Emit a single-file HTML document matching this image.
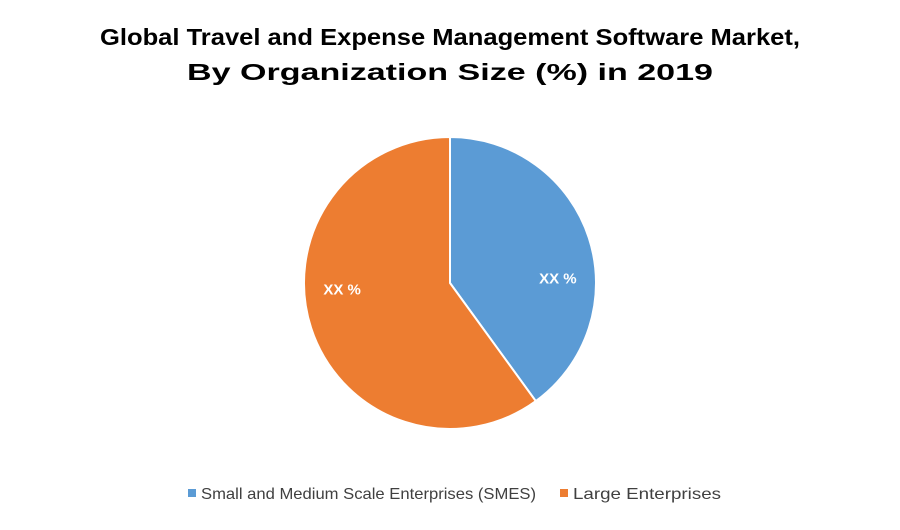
<!DOCTYPE html>
<html><head><meta charset="utf-8"><style>
body{margin:0;width:900px;height:525px;background:#fff;overflow:hidden;font-family:"Liberation Sans",sans-serif}
</style></head><body>
<svg width="900" height="525">
<text x="450" y="45" text-anchor="middle" font-size="23" font-weight="bold" fill="#000" textLength="700" lengthAdjust="spacingAndGlyphs">Global Travel and Expense Management Software Market,</text>
<text x="450" y="80" text-anchor="middle" font-size="23" font-weight="bold" fill="#000" textLength="526" lengthAdjust="spacingAndGlyphs">By Organization Size (%) in 2019</text>
<g id="slices"></g>
<g>
<rect x="188" y="489" width="8" height="8" fill="#5b9bd5"/>
<text x="201" y="499" font-size="16" fill="#404040" textLength="335" lengthAdjust="spacingAndGlyphs">Small and Medium Scale Enterprises (SMES)</text>
<rect x="560" y="489" width="8" height="8" fill="#ed7d31"/>
<text x="573" y="499" font-size="16" fill="#404040" textLength="148" lengthAdjust="spacingAndGlyphs">Large Enterprises</text>
</g>
</svg>
<script>
const categories=["Small and Medium Scale Enterprises (SMES)","Large Enterprises"];
const values=[40,60];
const labels=["XX %","XX %"];
const colors=["#5b9bd5","#ed7d31"];
const cx=450,cy=283,r=146;
const labelShift=15*Math.PI/180, labelR=0.74;
const g=document.getElementById('slices');
const ns="http://www.w3.org/2000/svg";
const total=values.reduce((a,b)=>a+b,0);
let a0=0;
values.forEach((v,i)=>{
  const a1=a0+v/total*2*Math.PI;
  const p=(a)=>[cx+r*Math.sin(a),cy-r*Math.cos(a)];
  const [x0,y0]=p(a0),[x1,y1]=p(a1);
  const path=document.createElementNS(ns,'path');
  path.setAttribute('d',`M${cx},${cy}L${x0},${y0}A${r},${r} 0 ${a1-a0>Math.PI?1:0} 1 ${x1},${y1}Z`);
  path.setAttribute('fill',colors[i]);
  path.setAttribute('stroke','#fff');
  path.setAttribute('stroke-width','2');
  
  
  g.appendChild(path);
  const am=(a0+a1)/2+labelShift;
  const t=document.createElementNS(ns,'text');
  t.setAttribute('x',cx+r*labelR*Math.sin(am));
  t.setAttribute('y',cy-r*labelR*Math.cos(am)+6);
  t.setAttribute('text-anchor','middle');
  t.setAttribute('font-size','15');
  t.setAttribute('font-weight','bold');
  t.setAttribute('fill','#fff');
  t.textContent=labels[i];
  
  
  g.appendChild(t);
  a0=a1;
});
</script>
</body></html>
